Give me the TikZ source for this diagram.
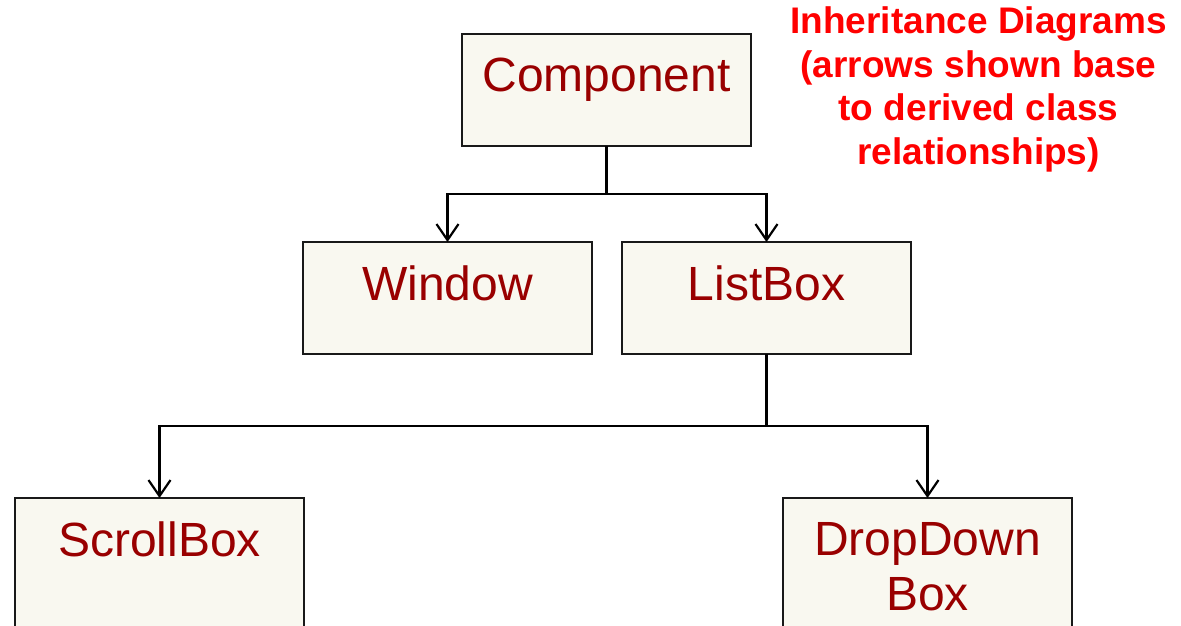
\documentclass[tikz,border=0pt]{standalone}
\usepackage{fontspec}
\setmainfont{Liberation Sans}
\usetikzlibrary{arrows.meta}
\definecolor{boxfill}{HTML}{F9F8F0}
\definecolor{cls}{HTML}{990000}
\definecolor{note}{HTML}{FF0000}
\begin{document}
\begin{tikzpicture}[x=1pt,y=-1pt,
  cbox/.style={draw=black!90, line width=1.8pt, fill=boxfill, minimum width=289pt, minimum height=112pt, inner sep=0pt, outer sep=0pt, anchor=north west},
  ctext/.style={text=cls, font=\fontsize{48}{55}\selectfont, anchor=base, inner sep=0pt, align=center},
  link/.style={line width=2.2pt, draw=black},
  arr/.style={link, -{Straight Barb[length=16pt,width=22pt]}}
]
\useasboundingbox (0,0) rectangle (1181,626);
\clip (0,0) rectangle (1181,626);

\node[cbox] (comp) at (462,34) {};
\node[cbox] (win) at (303,242) {};
\node[cbox] (list) at (622,242) {};
\node[cbox, minimum height=150pt] (scroll) at (15,498) {};
\node[cbox, minimum height=150pt] (drop) at (783,498) {};

\node[ctext] (compT) at ([yshift=-58pt]comp.north) {Component};
\node[ctext] (winT) at ([yshift=-58pt]win.north) {Window};
\node[ctext] (listT) at ([yshift=-58pt]list.north) {ListBox};
\node[ctext] (scrollT) at ([yshift=-58pt]scroll.north) {ScrollBox};
\node[ctext] (dropT) at ([yshift=-112pt]drop.north) {DropDown\\Box};

\coordinate (j1) at (606.5,194);
\coordinate (j2) at (766.5,426);
\draw[arr] (comp.south) -- (j1) -| (win.north);
\draw[arr] (comp.south) -- (j1) -| (list.north);
\draw[arr] (list.south) -- (j2) -| (scroll.north);
\draw[arr] (list.south) -- (j2) -| (drop.north);

\node[font=\bfseries\fontsize{37}{43.5}\selectfont, text=note, align=center, anchor=base, inner sep=0pt] (title) at (978.5,164) {Inheritance Diagrams\\(arrows shown base\\to derived class\\relationships)};
\end{tikzpicture}
\end{document}
